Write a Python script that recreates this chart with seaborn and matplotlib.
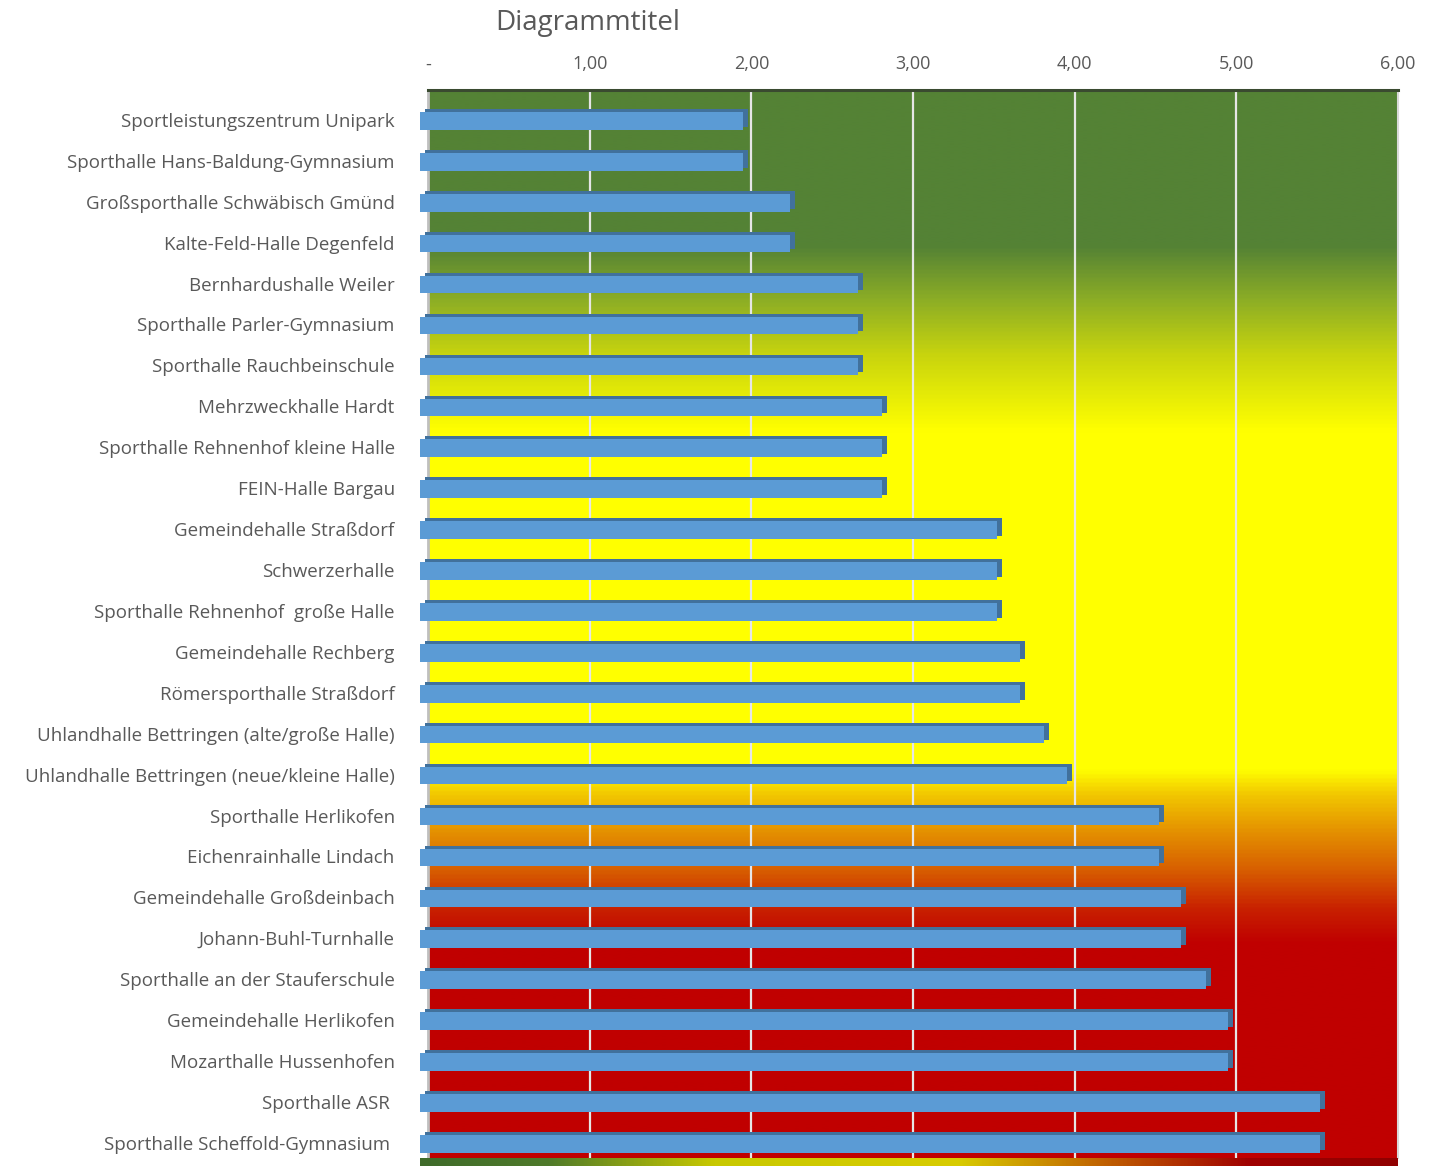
import numpy as np
import pandas as pd
import matplotlib
matplotlib.use("Agg")
import matplotlib.pyplot as plt
import seaborn as sns
from matplotlib.colors import LinearSegmentedColormap
from matplotlib.transforms import ScaledTranslation
from matplotlib import font_manager

categories = [
    "Sportleistungszentrum Unipark",
    "Sporthalle Hans-Baldung-Gymnasium",
    "Großsporthalle Schwäbisch Gmünd",
    "Kalte-Feld-Halle Degenfeld",
    "Bernhardushalle Weiler",
    "Sporthalle Parler-Gymnasium",
    "Sporthalle Rauchbeinschule",
    "Mehrzweckhalle Hardt",
    "Sporthalle Rehnenhof kleine Halle",
    "FEIN-Halle Bargau",
    "Gemeindehalle Straßdorf",
    "Schwerzerhalle",
    "Sporthalle Rehnenhof  große Halle",
    "Gemeindehalle Rechberg",
    "Römersporthalle Straßdorf",
    "Uhlandhalle Bettringen (alte/große Halle)",
    "Uhlandhalle Bettringen (neue/kleine Halle)",
    "Sporthalle Herlikofen",
    "Eichenrainhalle Lindach",
    "Gemeindehalle Großdeinbach",
    "Johann-Buhl-Turnhalle",
    "Sporthalle an der Stauferschule",
    "Gemeindehalle Herlikofen",
    "Mozarthalle Hussenhofen",
    "Sporthalle ASR ",
    "Sporthalle Scheffold-Gymnasium ",
]
values = [2.00, 2.00, 2.29, 2.29, 2.71, 2.71, 2.71, 2.86, 2.86, 2.86,
          3.57, 3.57, 3.57, 3.71, 3.71, 3.86, 4.00, 4.57, 4.57, 4.71,
          4.71, 4.86, 5.00, 5.00, 5.57, 5.57]
x_ticks = [0, 1, 2, 3, 4, 5, 6]
x_tick_labels = ["-", "1,00", "2,00", "3,00", "4,00", "5,00", "6,00"]
title = "Diagrammtitel"

sns.set_theme(style="white")
installed = {f.name for f in font_manager.fontManager.ttflist}
fam = ["Liberation Sans Narrow"] if "Liberation Sans Narrow" in installed else ["Open Sans"]
plt.rcParams["font.family"] = fam + ["DejaVu Sans"]

W, H = 1433, 1166
fig = plt.figure(figsize=(W / 100, H / 100), dpi=100)
left, right, top, bottom = 428, 1398, 90, 1158
ax = fig.add_axes([left / W, 1 - bottom / H, (right - left) / W, (bottom - top) / H])

# gradient background (vertical, green at top -> yellow -> red at bottom)
stops = [(0.0, "#548235"), (0.145, "#548235"), (0.196, "#8DAE25"),
         (0.247, "#C8D40E"), (0.318, "#FFFF00"), (0.637, "#FFFF00"),
         (0.66, "#F2C800"), (0.693, "#E59400"), (0.73, "#D86000"),
         (0.768, "#C82000"), (0.80, "#C00000"), (1.0, "#C00000")]
cmap = LinearSegmentedColormap.from_list("bg", stops)
grad = np.linspace(0, 1, 512).reshape(-1, 1)
ax.imshow(grad, cmap=cmap, aspect="auto", extent=[0, 1, 0, 1], origin="upper",
          transform=ax.transAxes, zorder=0, interpolation="bilinear")

df = pd.DataFrame({"Halle": categories, "Wert": values})
sns.barplot(data=df, y="Halle", x="Wert", orient="h", color="#5B9BD5",
            width=0.43, saturation=1, ax=ax, zorder=3, edgecolor="none")

# 3D look: darker back face, front face shifted left
front_off = ScaledTranslation(-8 / 100, -1 / 100, fig.dpi_scale_trans)
back_off = ScaledTranslation(-3 / 100, 2 / 100, fig.dpi_scale_trans)
for p in list(ax.patches):
    x0, y0 = p.get_x(), p.get_y()
    w, h = p.get_width(), p.get_height()
    back = plt.Rectangle((x0, y0), w, h, facecolor="#41719C", edgecolor="none",
                         zorder=2.9, transform=ax.transData + back_off, clip_on=False)
    ax.add_patch(back)
    p.set_transform(ax.transData + front_off)
    p.set_clip_on(False)

ax.set_xlim(0, 6)
ax.set_ylim(len(categories) - 1 + 0.37, -0.73)
ax.set_xticks(x_ticks)
ax.set_xticklabels(x_tick_labels)
ax.xaxis.tick_top()
ax.xaxis.set_label_position("top")
ax.set_xlabel("")
ax.set_ylabel("")
ax.tick_params(axis="x", length=0, pad=12, labelsize=13, labelcolor="#595959")
ax.tick_params(axis="y", length=0, pad=24, labelsize=13.5, labelcolor="#595959")
for xv in x_ticks[1:-1]:
    ax.axvline(xv, color="#E6E6E6", lw=1.6, zorder=1)

ax.spines["top"].set_color("#3A4A30")
ax.spines["top"].set_linewidth(2.2)
ax.spines["left"].set_color("#BFBFBF")
ax.spines["left"].set_linewidth(2)
ax.spines["right"].set_color("#D9D9D9")
ax.spines["right"].set_linewidth(1.5)
ax.spines["bottom"].set_visible(False)

# floor strip (horizontal gradient)
fax = fig.add_axes([420 / W, 0, (right - 420) / W, (H - bottom) / H])
fstops = [(0.0, "#3F6B2A"), (0.13, "#4F7A2A"), (0.3, "#C8C800"),
          (0.55, "#D8CC00"), (0.7, "#C06000"), (0.85, "#A00000"), (1.0, "#900000")]
fcmap = LinearSegmentedColormap.from_list("floor", fstops)
fax.imshow(np.linspace(0, 1, 512).reshape(1, -1), cmap=fcmap, aspect="auto",
           extent=[0, 1, 0, 1], interpolation="bilinear")
fax.set_axis_off()

fig.text(588 / W, 1 - 23 / H, title, ha="center", va="center",
         fontsize=20, color="#595959")

fig.savefig("out.png", dpi=100)
